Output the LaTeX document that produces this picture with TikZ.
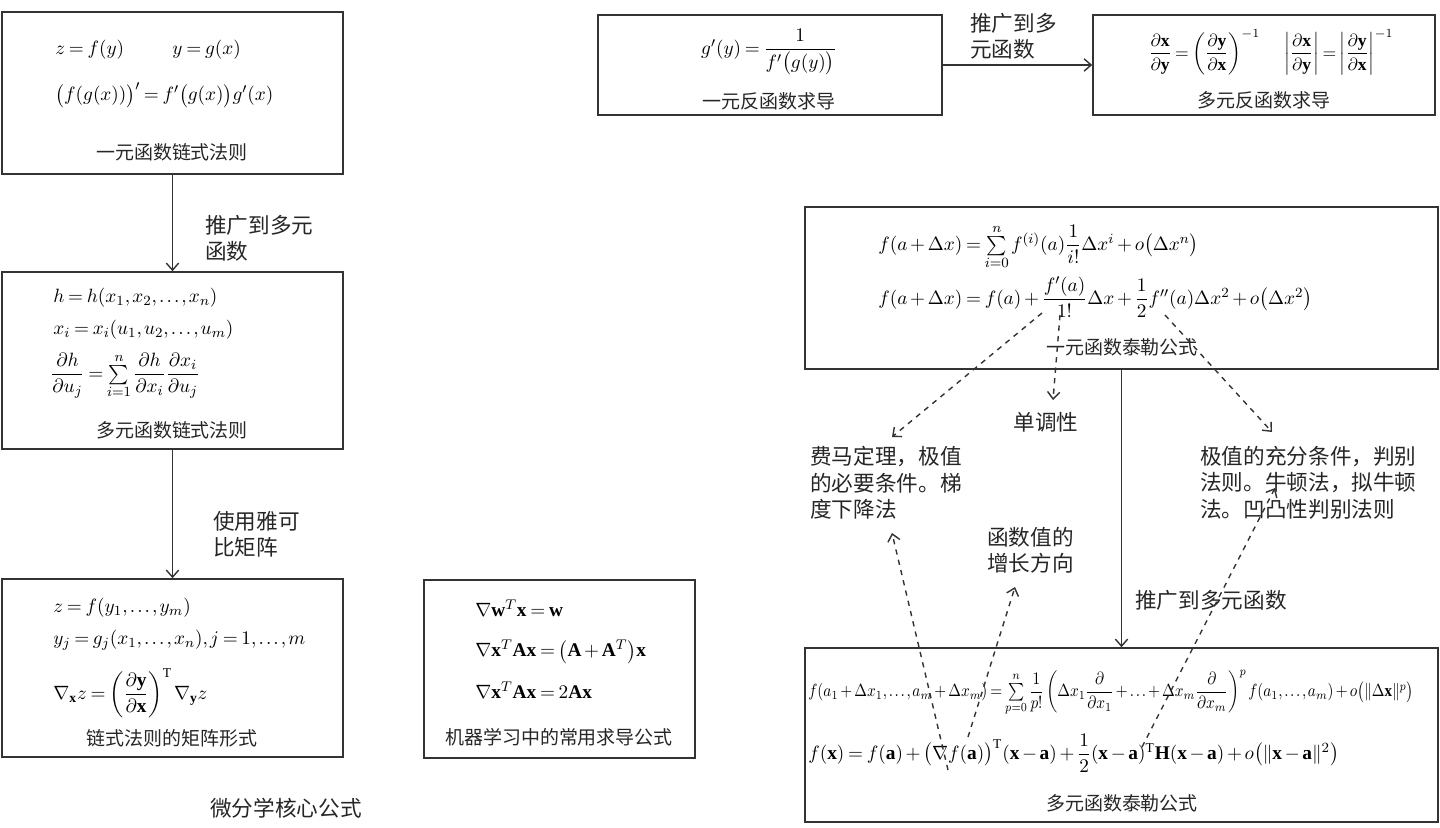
\documentclass[tikz,border=0pt]{standalone}
\usepackage{amsmath}
\usepackage{graphicx}
\usepackage{fontspec}
\setmainfont{Liberation Serif}
\newfontfamily\cjk{Noto Sans CJK SC}
\usepackage{tikz}
\usetikzlibrary{arrows.meta, fit, positioning}

\newcommand{\tightmath}{\thinmuskip=2mu\medmuskip=2.5mu\thickmuskip=3.5mu}

\begin{document}
\begin{tikzpicture}[x=0.02cm, y=-0.02cm,
  box/.style={draw=black!80, line width=0.9pt, inner sep=0pt},
  capt/.style={font=\cjk\fontsize{10.8}{13}\selectfont, text=black!85, inner sep=0pt},
  lbl/.style={font=\cjk\fontsize{12.3}{15}\selectfont, text=black!85, align=left, inner sep=0pt},
  fml/.style={font=\fontsize{11}{13}\selectfont\tightmath, anchor=west, inner sep=0pt},
  fmlc/.style={fml, anchor=center},
  arr/.style={-{Straight Barb[length=4pt,width=7pt]}, line width=0.8pt, draw=black!80},
  dasharr/.style={arr, dashed}]
  \useasboundingbox (0,0) rectangle (1440,828);

  % chain rule column
  \node[box, fit={(2,12) (343,174)}] (chain1) {};
  \node[fml] (c1a) at (55,50) {$z=f(y)\qquad\ \ y=g(x)$};
  \node[fml] (c1b) at (55,95) {$\bigl(f(g(x))\bigr)'=f'\bigl(g(x)\bigr)g'(x)$};
  \node[capt] (c1c) at (172,152) {一元函数链式法则};

  \node[box, fit={(2,272) (343,449)}] (chain2) {};
  \node[fml] (c2a) at (53,298) {$h=h(x_1,x_2,\ldots,x_n)$};
  \node[fml] (c2b) at (53,330) {$x_i=x_i(u_1,u_2,\ldots,u_m)$};
  \node[fml] (c2c) at (50,376) {$\dfrac{\partial h}{\partial u_j}=\sum\limits_{i=1}^{n}\dfrac{\partial h}{\partial x_i}\dfrac{\partial x_i}{\partial u_j}$};
  \node[capt] (c2d) at (172,430) {多元函数链式法则};

  \node[box, fit={(2,579) (343,757)}] (chain3) {};
  \node[fml] (c3a) at (53,608) {$z=f(y_1,\ldots,y_m)$};
  \node[fml] (c3b) at (53,640) {$y_j=g_j(x_1,\ldots,x_n),j=1,\ldots,m$};
  \node[fml] (c3c) at (53,693) {$\nabla_{\mathbf{x}}z=\left(\dfrac{\partial\mathbf{y}}{\partial\mathbf{x}}\right)^{\mathrm{T}}\nabla_{\mathbf{y}}z$};
  \node[capt] (c3d) at (172,738) {链式法则的矩阵形式};

  \draw[arr] (chain1) -- (chain2);
  \node[lbl, anchor=north west] (gen1) at (205,215) {推广到多元\\函数};
  \draw[arr] (chain2) -- (chain3);
  \node[lbl, anchor=north west] (jac) at (213,511) {使用雅可\\比矩阵};

  % machine learning formulas
  \node[box, fit={(424,580) (695,758)}] (ml) {};
  \node[fml] (mla) at (475,608) {$\nabla\mathbf{w}^{T}\mathbf{x}=\mathbf{w}$};
  \node[fml] (mlb) at (475,652) {$\nabla\mathbf{x}^{T}\mathbf{Ax}=\bigl(\mathbf{A}+\mathbf{A}^{T}\bigr)\mathbf{x}$};
  \node[fml] (mlc) at (475,690) {$\nabla\mathbf{x}^{T}\mathbf{Ax}=2\mathbf{Ax}$};
  \node[capt] (mld) at (559,737) {机器学习中的常用求导公式};

  \node[lbl] (title) at (286,808) {微分学核心公式};

  % inverse functions
  \node[box, fit={(598,15) (942,115)}] (inv1) {};
  \node[fmlc] (i1a) at (769,52) {$g'(y)=\dfrac{1}{f'\bigl(g(y)\bigr)}$};
  \node[capt] (i1b) at (769,101) {一元反函数求导};

  \node[box, fit={(1093,15) (1435,115)}] (inv2) {};
  \node[fmlc, font=\fontsize{10}{12}\selectfont\tightmath] (i2a) at (1271,52) {$\dfrac{\partial\mathbf{x}}{\partial\mathbf{y}}=\left(\dfrac{\partial\mathbf{y}}{\partial\mathbf{x}}\right)^{-1}\quad\ \left|\dfrac{\partial\mathbf{x}}{\partial\mathbf{y}}\right|=\left|\dfrac{\partial\mathbf{y}}{\partial\mathbf{x}}\right|^{-1}$};
  \node[capt] (i2b) at (1264,100) {多元反函数求导};

  \draw[arr] (inv1) -- (inv2);
  \node[lbl, anchor=north west] (gen2) at (970,13) {推广到多\\元函数};

  % Taylor formulas
  \node[box, fit={(805,207) (1438,369)}] (taylor1) {};
  \node[fml] (t1a) at (878,247) {$f(a+\Delta x)=\sum\limits_{i=0}^{n}f^{(i)}(a)\dfrac{1}{i!}\Delta x^{i}+o\bigl(\Delta x^{n}\bigr)$};
  \node[fml] (t1b) at (878,297) {$f(a+\Delta x)=f(a)+\dfrac{f'(a)}{1!}\Delta x+\dfrac{1}{2}f''(a)\Delta x^{2}+o\bigl(\Delta x^{2}\bigr)$};
  \node[capt] (t1c) at (1122,347) {一元函数泰勒公式};

  \node[box, fit={(805,648) (1438,822)}] (taylor2) {};
  \node[fml, font=\fontsize{9.8}{12}\selectfont\tightmath] (t2a) at (808,693) {\scalebox{0.87}[1]{$f(a_1+\Delta x_1,\ldots,a_m+\Delta x_m)=\sum\limits_{p=0}^{n}\dfrac{1}{p!}\left(\Delta x_1\dfrac{\partial}{\partial x_1}+\ldots+\Delta x_m\dfrac{\partial}{\partial x_m}\right)^{p}f(a_1,\ldots,a_m)+o\bigl(\|\Delta\mathbf{x}\|^{p}\bigr)$}};
  \node[fml] (t2b) at (808,753) {$f(\mathbf{x})=f(\mathbf{a})+\bigl(\nabla f(\mathbf{a})\bigr)^{\mathrm{T}}(\mathbf{x}-\mathbf{a})+\dfrac{1}{2}(\mathbf{x}-\mathbf{a})^{\mathrm{T}}\mathbf{H}(\mathbf{x}-\mathbf{a})+o\bigl(\|\mathbf{x}-\mathbf{a}\|^{2}\bigr)$};
  \node[capt] (t2c) at (1122,803) {多元函数泰勒公式};

  \draw[arr] (taylor1) -- (taylor2);
  \node[lbl, anchor=west] (gen3) at (1135,600) {推广到多元函数};

  % applications
  \node[lbl, anchor=north west] (fermat) at (810,446) {费马定理，极值\\的必要条件。梯\\度下降法};
  \node[lbl] (mono) at (1046,422) {单调性};
  \node[lbl, anchor=north west] (grow) at (987,527) {函数值的\\增长方向};
  \node[lbl, anchor=north west] (newton) at (1200,446) {极值的充分条件，判别\\法则。牛顿法，拟牛顿\\法。凹凸性判别法则};

  \coordinate (s1) at (1042,313);
  \coordinate (e1) at (892,437);
  \coordinate (s2) at (1060,315);
  \coordinate (e2) at (1053,400);
  \coordinate (s3) at (1165,315);
  \coordinate (e3) at (1272,432);
  \coordinate (s4) at (948,770);
  \coordinate (e4) at (892,533);
  \coordinate (s5) at (968,737);
  \coordinate (e5) at (1015,587);
  \coordinate (s6) at (1142,747);
  \coordinate (e6) at (1275,488);
  \draw[dasharr] (s1) -- (e1);
  \draw[dasharr] (s2) -- (e2);
  \draw[dasharr] (s3) -- (e3);
  \draw[dasharr] (s4) -- (e4);
  \draw[dasharr] (s5) -- (e5);
  \draw[dasharr] (s6) -- (e6);
\end{tikzpicture}
\end{document}
